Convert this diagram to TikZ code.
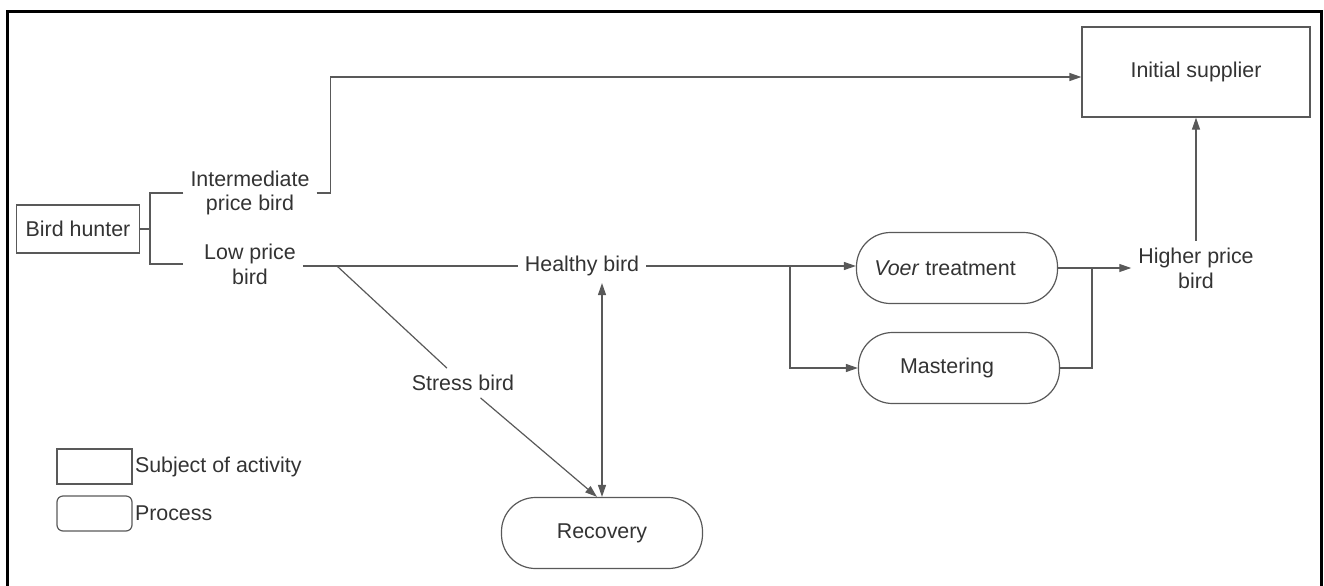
\documentclass[tikz,border=0pt]{standalone}
\usepackage{fontspec}
\setmainfont{Liberation Sans}
\usetikzlibrary{arrows.meta, positioning}

\begin{document}
\begin{tikzpicture}[x=0.5pt, y=-0.5pt,
    every node/.style={font=\fontsize{10.7}{12.4}\selectfont, text=black!80},
    line/.style={draw=black!65, line width=0.6pt},
    arr/.style={line, -{Triangle[length=6pt, width=4pt]}},
    dblarr/.style={line, {Triangle[length=6pt, width=4pt]}-{Triangle[length=6pt, width=4pt]}},
    subject/.style={line, rectangle},
    process/.style={line, rectangle, rounded corners=17pt, minimum width=100.5pt, minimum height=35.5pt},
    label/.style={align=center}]
  \useasboundingbox (0,0) rectangle (1324,585);
  % Frame
  \draw[line width=1.5pt] (7,590) -- (7,11) -- (1321,11) -- (1321,590);

  % Subjects
  \node[subject, minimum width=61.5pt, minimum height=24pt] (hunter) at (78,229) {Bird hunter};
  \node[subject, minimum width=114pt, minimum height=45pt] (supplier) at (1196,72) {Initial supplier};

  % Birds
  \node[label] (interm) at (250,193) {Intermediate\\price bird};
  \node[label] (low) at (250,264) {Low price\\bird};
  \node[label] (healthy) at (582,266) {Healthy bird};
  \node[label] (stress) at (463,383) {Stress bird};
  \node[label] (higher) at (1196,268) {Higher price\\bird};

  % Processes
  \node[process] (voer) at (957,268) {\textit{Voer} treatment\hspace*{12pt}};
  \node[process] (master) at (959,368) {Mastering\hspace*{12pt}};
  \node[process] (recovery) at (602,533) {Recovery};

  % Bracket
  \coordinate (brk) at (150,229);
  \draw[line] (hunter.east) -- (brk);
  \draw[line] (interm.west) -| (brk) |- (low.west -| interm.west);

  % Intermediate price bird to supplier
  \draw[arr] (interm.east) -- ++(14,0) |- ([yshift=-2.5pt]supplier.west);

  % Low price bird
  \coordinate (fork) at (337,266);
  \draw[line] (low.east |- healthy.west) -- (healthy.west);
  \draw[line] (fork) -- (stress);
  \draw[arr] (stress) -- ([xshift=-2.5pt]recovery.north);
  \draw[dblarr] (recovery.north |- healthy.south) -- (recovery.north);

  % Healthy bird to treatments
  \coordinate (split) at (790,266);
  \draw[arr] (healthy.east) -- (healthy.east -| voer.west);
  \draw[arr] (split) |- (master.west);

  % Treatments to higher price
  \coordinate (join) at (1092,268);
  \draw[line] (voer.east) -- (join);
  \draw[line] (master.east) -| (join);
  \draw[arr] (join) -- (higher.west);
  \draw[arr] (higher.north) -- (supplier.south);

  % Legend
  \node[subject, minimum width=37.5pt, minimum height=17.5pt] (keysubj) at (94.5,466.5) {};
  \node[anchor=west, inner sep=1pt] (keysubjtext) at (keysubj.east) {Subject of activity};
  \node[line, rectangle, rounded corners=3pt, minimum width=37.5pt, minimum height=17.5pt] (keyproc) at (94.5,513.5) {};
  \node[anchor=west, inner sep=1pt] (keyproctext) at (keyproc.east) {Process};
\end{tikzpicture}
\end{document}
